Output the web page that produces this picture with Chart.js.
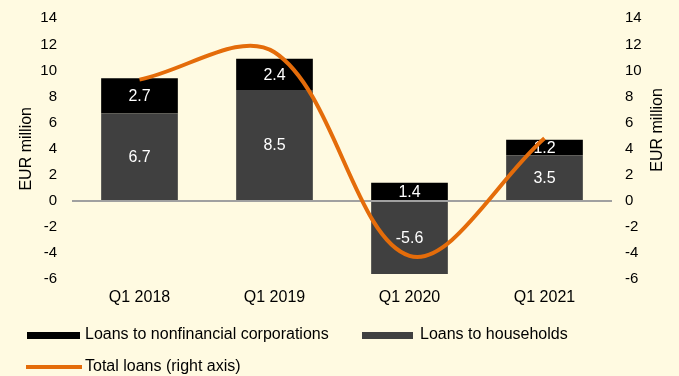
<!DOCTYPE html>
<html>
<head>
<meta charset="utf-8">
<script src="https://cdn.jsdelivr.net/npm/chart.js@4"></script>
<style>
  html, body { margin: 0; padding: 0; background: #FFFAE1; }
  #wrap { position: relative; width: 679px; height: 376px; font-family: "Liberation Sans", Arial, sans-serif; }
  #wrap canvas { position: absolute; left: 0; top: 0; }
  .lg-text { position: absolute; font-size: 16px; line-height: 20px; color: #000; white-space: nowrap; }
  .lg-swatch { position: absolute; }
</style>
</head>
<body>
<div id="wrap">
  <canvas id="chart"></canvas>
  <div id="legend"></div>
</div>
<script>
// Quarterly loan flows, EUR million
const quarters = ['Q1 2018', 'Q1 2019', 'Q1 2020', 'Q1 2021'];
const householdLoans = [6.7, 8.5, -5.6, 3.5];
const corporateLoans = [2.7, 2.4, 1.4, 1.2];
const totalLoans = [9.3, 11.4, -4.2, 4.8];
const axisTicks = [-6, -4, -2, 0, 2, 4, 6, 8, 10, 12, 14];

const FONT = '"Liberation Sans", Arial, sans-serif';
const axisMin = axisTicks[0];
const axisMax = axisTicks[axisTicks.length - 1];

// White value labels in the middle of each bar segment
const barLabels = {
  id: 'barLabels',
  afterDatasetDraw(chart, args) {
    const meta = args.meta;
    if (meta.type !== 'bar') return;
    const ds = chart.data.datasets[args.index];
    const ctx = chart.ctx;
    ctx.save();
    ctx.font = '16px ' + FONT;
    ctx.fillStyle = '#ffffff';
    ctx.textAlign = 'center';
    ctx.textBaseline = 'middle';
    meta.data.forEach((el, i) => {
      const p = el.getProps(['x', 'y', 'base'], true);
      ctx.fillText(ds.data[i].toFixed(1), p.x, (p.y + p.base) / 2 + 1);
    });
    ctx.restore();
  }
};

// Title of the right-hand axis, reading bottom to top
const rightTitle = {
  id: 'rightTitle',
  afterDraw(chart) {
    const ctx = chart.ctx;
    ctx.save();
    ctx.font = '16px ' + FONT;
    ctx.fillStyle = '#000';
    ctx.textAlign = 'center';
    ctx.textBaseline = 'middle';
    ctx.translate(658, 130);
    ctx.rotate(-Math.PI / 2);
    ctx.fillText('EUR million', 0, 0);
    ctx.restore();
  }
};

// Fixed axis widths; tick padding should not push the plot area down
function fixVerticalAxis(width) {
  return scale => {
    scale.width = width;
    scale.paddingTop = 0;
    scale.paddingBottom = 0;
  };
}

const chart = new Chart(document.getElementById('chart'), {
  type: 'bar',
  data: {
    labels: quarters,
    datasets: [
      {
        label: 'Loans to households',
        data: householdLoans,
        backgroundColor: '#404040',
        stack: 'loans',
        order: 2,
        barPercentage: 0.568,
        categoryPercentage: 1.0
      },
      {
        label: 'Loans to nonfinancial corporations',
        data: corporateLoans,
        backgroundColor: '#000000',
        stack: 'loans',
        order: 2,
        barPercentage: 0.568,
        categoryPercentage: 1.0
      },
      {
        type: 'line',
        label: 'Total loans (right axis)',
        data: totalLoans,
        yAxisID: 'y2',
        borderColor: '#E46C0A',
        backgroundColor: '#E46C0A',
        borderWidth: 4,
        pointRadius: 0,
        tension: 0.35,
        order: 0,
        borderCapStyle: 'butt'
      }
    ]
  },
  options: {
    responsive: true,
    maintainAspectRatio: false,
    animation: false,
    layout: { padding: { top: 18.3, right: 0, bottom: 0, left: 0 } },
    plugins: {
      legend: { display: false },
      tooltip: { enabled: false }
    },
    scales: {
      x: {
        stacked: true,
        grid: { display: false, drawTicks: false },
        border: { display: false },
        ticks: { color: '#000', font: { family: FONT, size: 16 }, padding: 9 },
        afterFit(scale) { scale.height = 96.7; }
      },
      y: {
        stacked: true,
        position: 'left',
        min: axisMin,
        max: axisMax,
        afterBuildTicks(scale) { scale.ticks = axisTicks.map(v => ({ value: v })); },
        ticks: { color: '#000', font: { family: FONT, size: 15 }, padding: 15 },
        grid: {
          drawTicks: false,
          color: ctx => (ctx.tick && ctx.tick.value === 0 ? '#A0A0A0' : 'rgba(0,0,0,0)'),
          lineWidth: 2
        },
        border: { display: false },
        title: {
          display: true,
          text: 'EUR million',
          color: '#000',
          font: { family: FONT, size: 16 },
          padding: { top: 17, bottom: 0 }
        },
        afterFit: fixVerticalAxis(72)
      },
      y2: {
        position: 'right',
        min: axisMin,
        max: axisMax,
        afterBuildTicks(scale) { scale.ticks = axisTicks.map(v => ({ value: v })); },
        ticks: { color: '#000', font: { family: FONT, size: 15 }, padding: 13 },
        grid: { display: false, drawTicks: false },
        border: { display: false },
        afterFit: fixVerticalAxis(67)
      }
    }
  },
  plugins: [barLabels, rightTitle]
});

// Legend laid out in two rows under the axis
const legendSlots = [
  { label: 'Loans to nonfinancial corporations', swatch: [27, 331.7, 53, 7.3], text: [85, 324] },
  { label: 'Loans to households', swatch: [362, 331.7, 51, 7], text: [420, 324] },
  { label: 'Total loans (right axis)', swatch: [26, 364.8, 56, 4.5], text: [85, 355.7] }
];
const legendEl = document.getElementById('legend');
legendSlots.forEach(slot => {
  const ds = chart.data.datasets.find(d => d.label === slot.label);
  const sw = document.createElement('div');
  sw.className = 'lg-swatch';
  sw.style.left = slot.swatch[0] + 'px';
  sw.style.top = slot.swatch[1] + 'px';
  sw.style.width = slot.swatch[2] + 'px';
  sw.style.height = slot.swatch[3] + 'px';
  sw.style.background = ds.type === 'line' ? ds.borderColor : ds.backgroundColor;
  legendEl.appendChild(sw);
  const tx = document.createElement('div');
  tx.className = 'lg-text';
  tx.style.left = slot.text[0] + 'px';
  tx.style.top = slot.text[1] + 'px';
  tx.textContent = ds.label;
  legendEl.appendChild(tx);
});
</script>
</body>
</html>
